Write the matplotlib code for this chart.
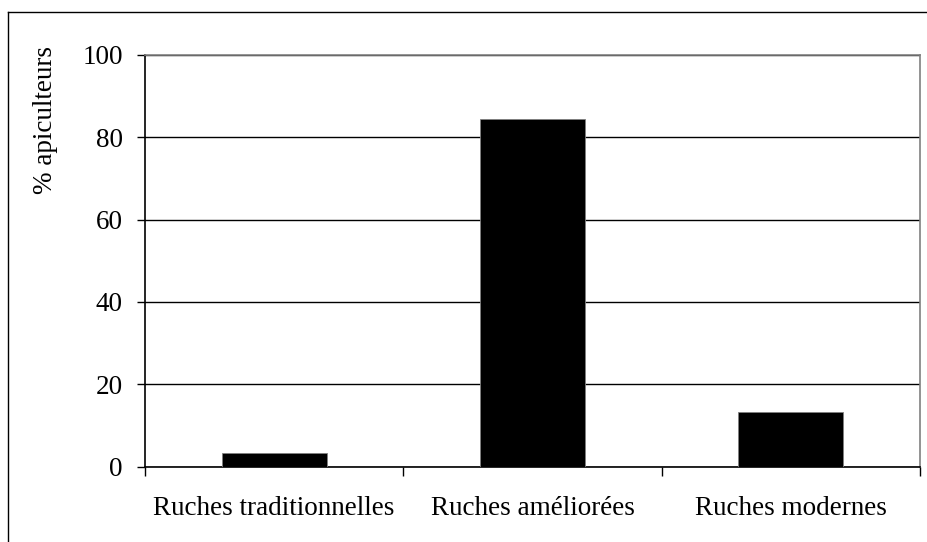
import matplotlib
matplotlib.use("Agg")
import matplotlib.pyplot as plt
from matplotlib.lines import Line2D
from matplotlib.ticker import FixedLocator

# === DATE ===
categories = ["Ruches traditionnelles", "Ruches améliorées", "Ruches modernes"]
pct_apiculteurs = [3.2, 84.4, 13.3]
y_ticks = [0, 20, 40, 60, 80, 100]

plt.rcParams["font.family"] = ["Liberation Serif", "DejaVu Serif"]
FS = 19.5

fig = plt.figure(figsize=(9.27, 5.42), dpi=100)
ax = fig.add_axes([145 / 927, 1 - 466.5 / 542, 775 / 927, 411.5 / 542])

x = list(range(len(categories)))
ax.bar(x, pct_apiculteurs, width=0.406, color="black", edgecolor="#808080", linewidth=0.6, zorder=3)

ax.set_xlim(-0.5, len(categories) - 0.5)
ax.set_ylim(0, 100)
ax.set_yticks(y_ticks)
ax.set_xticks(x)
ax.set_xticklabels(categories)
ax.xaxis.set_minor_locator(FixedLocator([i - 0.5 for i in range(len(categories) + 1)]))

ax.tick_params(axis="x", which="major", length=0, pad=21, labelsize=FS)
ax.tick_params(axis="x", which="minor", length=6.5, width=1, direction="out", color="black")
ax.tick_params(axis="y", length=6, width=1, direction="out", pad=10, labelsize=FS)

ax.grid(axis="y", color="black", linewidth=1, zorder=0)
ax.set_axisbelow(True)
for side in ["left", "bottom"]:
    ax.spines[side].set_color("black")
    ax.spines[side].set_linewidth(1.2)
for side in ["top", "right"]:
    ax.spines[side].set_color("#808080")
    ax.spines[side].set_linewidth(1.2)

# titre de l'axe Y, place en haut comme dans l'original
fig.text(46 / 927, 1 - 120 / 542, "% apiculteurs", rotation=90, ha="center", va="center", fontsize=FS)

# cadre de la figure (coupé a droite et en bas)
fig.add_artist(Line2D([8 / 927, 8 / 927], [0, 1 - 12 / 542], color="black", linewidth=1, transform=fig.transFigure))
fig.add_artist(Line2D([8 / 927, 1], [1 - 12 / 542, 1 - 12 / 542], color="black", linewidth=1, transform=fig.transFigure))

fig.savefig("out.png", dpi=100)
